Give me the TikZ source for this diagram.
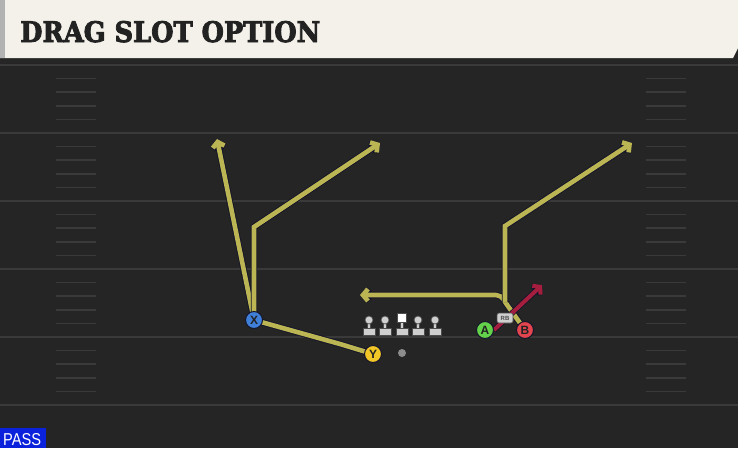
\documentclass[tikz,border=0pt]{standalone}
\usepackage{fontspec}
\setsansfont{Liberation Sans}
\newfontfamily\titlefont{DejaVu Serif}[BoldFeatures={FakeBold=3}]
\usetikzlibrary{arrows.meta}
\definecolor{fieldbg}{HTML}{252525}
\definecolor{fieldline}{HTML}{3A3A3A}
\definecolor{headerbg}{HTML}{F4F1EA}
\definecolor{titleink}{HTML}{222222}
\definecolor{routeyellow}{HTML}{BBB653}
\definecolor{routeedge}{HTML}{14142A}
\definecolor{hotred}{HTML}{A51E3E}
\definecolor{xblue}{HTML}{3F7FD8}
\definecolor{yyellow}{HTML}{F2C626}
\definecolor{agreen}{HTML}{63D14A}
\definecolor{bred}{HTML}{E2454D}
\definecolor{passblue}{HTML}{0B22DC}
\definecolor{linegray}{HTML}{CFCFCF}
\begin{document}
\begin{tikzpicture}[x=1pt,y=-1pt,
    yardline/.style={draw=fieldline,line width=2pt},
    hashmark/.style={draw=fieldline,line width=1.5pt},
    route/.style={draw=routeyellow,line width=4.6pt,
      -{Straight Barb[length=5pt,width=12pt]},
      preaction={draw=routeedge,line width=6.4pt}},
    hotroute/.style={draw=hotred,line width=4pt,
      -{Straight Barb[length=5pt,width=12pt]},
      preaction={draw=routeedge,line width=5.6pt}},
    player/.style={circle,minimum size=17pt,inner sep=0pt,draw=routeedge,
      line width=1pt,font=\sffamily\bfseries\fontsize{12}{12}\selectfont,text=titleink},
    lineman/.style={fill=linegray,draw=black!70,line width=0.7pt}]
  \useasboundingbox (0,0) rectangle (738,448);
  \fill[fieldbg] (0,0) rectangle (738,448);
  \fill[black!85] (0,56) rectangle (738,63);
  \fill[headerbg] (0,0) -- (738,0) -- (738,48) -- (733,58) -- (0,58) -- cycle;
  \fill[black!30] (0,0) rectangle (5,58);
  \node[anchor=base west,inner sep=0pt,text=titleink] (title) at (20,42)
    {\resizebox{300pt}{21pt}{\titlefont\bfseries\fontsize{29}{29}\selectfont DRAG SLOT OPTION}};
  \foreach \y in {65,133,201,269,337,405}
    \draw[yardline] (0,\y) -- (738,\y);
  \foreach \y in {65,133,201,269,337}
    \foreach \k in {1,...,4}{
      \draw[hashmark] (56,\y+13.6*\k) -- (96,\y+13.6*\k);
      \draw[hashmark] (646,\y+13.6*\k) -- (686,\y+13.6*\k);
    }
  \fill[passblue] (0,428) rectangle (46,448);
  \node[anchor=base west,inner sep=0pt,text=white] (pass) at (3,445)
    {\resizebox{38pt}{12pt}{\sffamily PASS}};
  \coordinate (x1) at (217,139);
  \coordinate (x2) at (254,227);
  \coordinate (x3) at (380,143);
  \coordinate (ybend) at (340,344);
  \coordinate (b1) at (505,302);
  \coordinate (b2) at (505,226);
  \coordinate (b3) at (632,143);
  \coordinate (drag) at (360,295);
  \coordinate (rbstart) at (494,330);
  \coordinate (rbend) at (542,285);
  \coordinate (X) at (254,320);
  \coordinate (Y) at (373,354);
  \coordinate (B) at (525,330);
  \draw[route,-] (Y) -- (ybend) -- (X);
  \draw[route] (X) -- (x1);
  \draw[route] (X) -- (x2) -- (x3);
  \draw[route,rounded corners=5pt] (B) -- (b1) -- (501,295) -- (drag);
  \draw[route] (b1) -- (b2) -- (b3);
  \draw[hotroute] (rbstart) -- (rbend);
  \foreach \x in {369,385,402,418,435}{
    \filldraw[lineman] (\x-6,328.5) rectangle (\x+6,335);
    \filldraw[lineman] (\x-1.8,322) rectangle (\x+1.8,328.5);
  }
  \foreach \x in {369,385,418,435}
    \filldraw[lineman] (\x,320) circle (4pt);
  \filldraw[fill=white,draw=black!70,line width=0.7pt] (397.5,313.5) rectangle (406.5,322.5);
  \node[circle,fill=black!45,minimum size=8pt,inner sep=0pt] (ball) at (402,353) {};
  \node[player,fill=xblue] (xr) at (X) {X};
  \node[player,fill=yyellow] (yr) at (Y) {Y};
  \node[player,fill=agreen] (ar) at (485,330) {A};
  \node[player,fill=bred] (br) at (B) {B};
  \node[rounded corners=2pt,fill=linegray,draw=black!70,line width=0.6pt,
    minimum width=16pt,minimum height=10pt,inner sep=0pt,
    font=\sffamily\bfseries\fontsize{6}{6}\selectfont,text=black!70] (rb) at (505,318) {RB};
\end{tikzpicture}
\end{document}
